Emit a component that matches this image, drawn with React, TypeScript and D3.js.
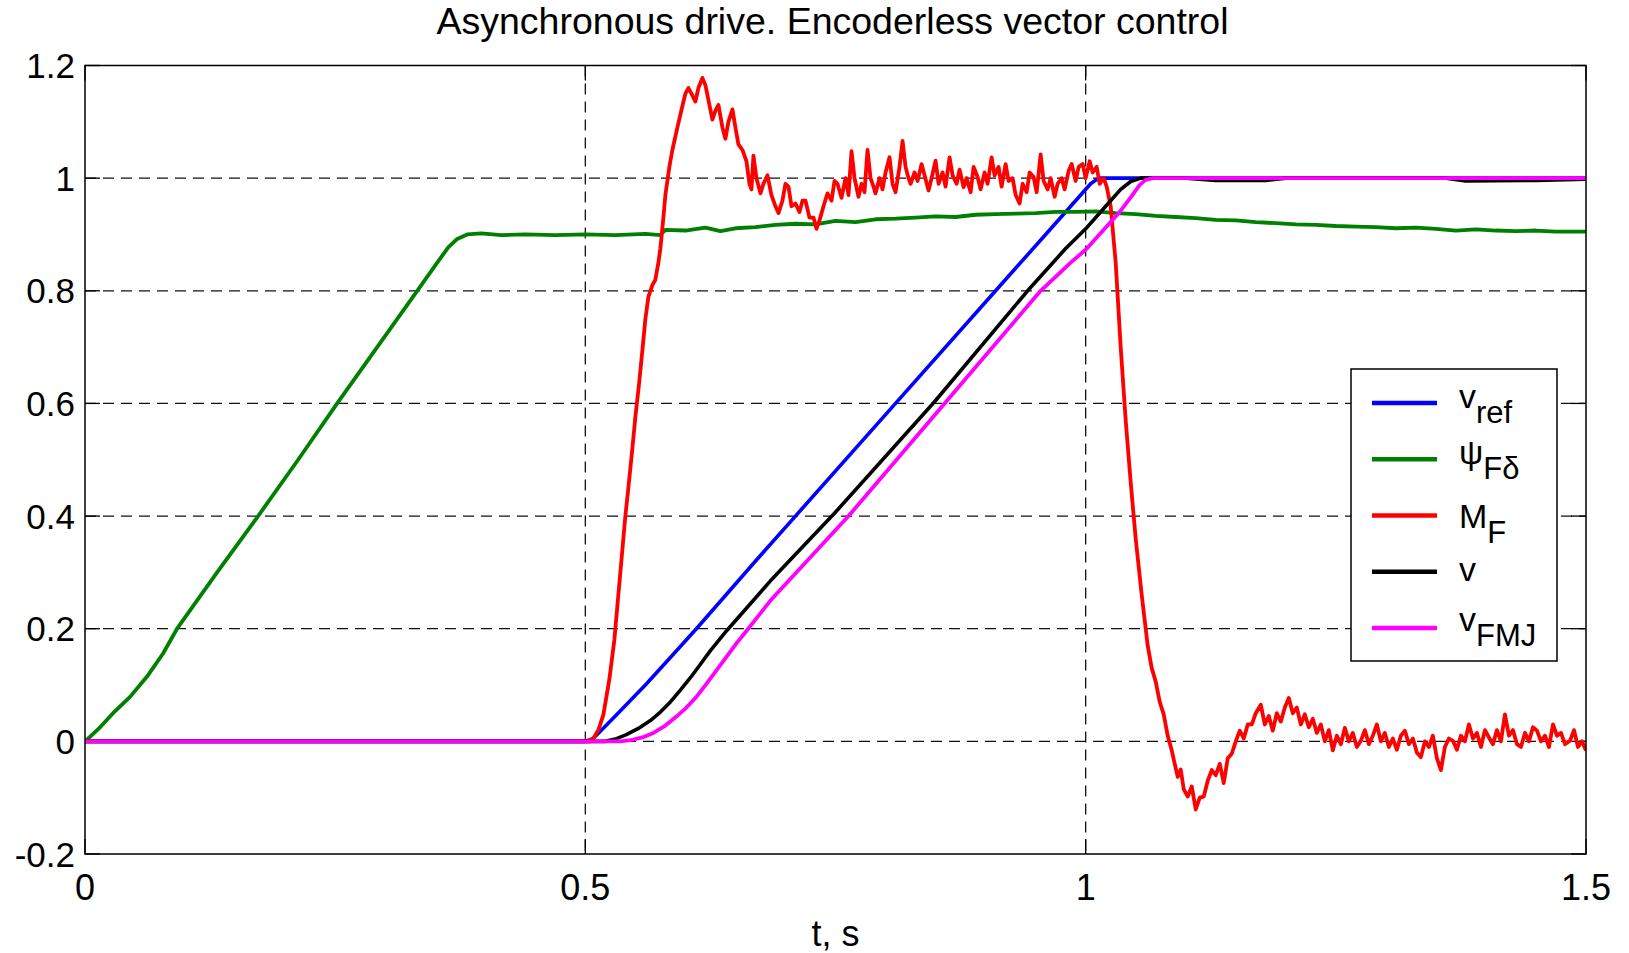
import React, { useEffect, useRef } from 'react';
import * as d3 from 'd3';

// time, s / value pairs
const vRef = [
  [0, 0], [0.505, 0], [0.515, 0.018], [0.53, 0.045], [0.56, 0.1], [0.585, 0.149],
  [0.611, 0.2], [0.671, 0.322], [0.71, 0.4], [0.81, 0.6], [0.91, 0.8], [0.96, 0.9],
  [0.995, 0.97], [1.005, 0.99], [1.013, 1.0], [1.5, 1.0],
];

const psiF = [
  [0, 0], [0.002, 0.003], [0.015, 0.025], [0.028, 0.05], [0.045, 0.079], [0.062, 0.115],
  [0.078, 0.156], [0.092, 0.2], [0.132, 0.3], [0.173, 0.4], [0.213, 0.5], [0.252, 0.6],
  [0.292, 0.7], [0.332, 0.8], [0.352, 0.85], [0.363, 0.877], [0.372, 0.892], [0.382, 0.9],
  [0.396, 0.902], [0.416, 0.899], [0.44, 0.9], [0.47, 0.899], [0.5, 0.9], [0.53, 0.899],
  [0.56, 0.901], [0.575, 0.899], [0.58, 0.908], [0.6, 0.907], [0.62, 0.912], [0.635, 0.906],
  [0.65, 0.911], [0.67, 0.913], [0.69, 0.917], [0.71, 0.919], [0.73, 0.918], [0.75, 0.924],
  [0.77, 0.922], [0.79, 0.927], [0.81, 0.928], [0.83, 0.93], [0.85, 0.932], [0.87, 0.931],
  [0.89, 0.935], [0.91, 0.936], [0.93, 0.937], [0.95, 0.938], [0.97, 0.94], [0.99, 0.94],
  [1.01, 0.941], [1.03, 0.938], [1.05, 0.936], [1.07, 0.933], [1.09, 0.931], [1.11, 0.929],
  [1.13, 0.926], [1.15, 0.925], [1.17, 0.922], [1.19, 0.92], [1.21, 0.918], [1.23, 0.917],
  [1.25, 0.915], [1.27, 0.914], [1.29, 0.913], [1.31, 0.911], [1.33, 0.912], [1.35, 0.91],
  [1.37, 0.907], [1.39, 0.909], [1.41, 0.907], [1.43, 0.906], [1.45, 0.907], [1.47, 0.905],
  [1.5, 0.905],
];

const torque = [
  [0, 0], [0.5, 0], [0.508, 0.005], [0.513, 0.02], [0.518, 0.047], [0.524, 0.11],
  [0.529, 0.18], [0.533, 0.26], [0.537, 0.34], [0.540, 0.40], [0.543, 0.45], [0.547, 0.52],
  [0.550, 0.576], [0.554, 0.64], [0.557, 0.694], [0.560, 0.75], [0.563, 0.789], [0.567, 0.81],
  [0.570, 0.82], [0.573, 0.85], [0.575, 0.875], [0.578, 0.93], [0.580, 0.97], [0.584, 1.02],
  [0.587, 1.05], [0.592, 1.09], [0.597, 1.128], [0.600, 1.15], [0.603, 1.16], [0.606, 1.15],
  [0.610, 1.136], [0.613, 1.16], [0.617, 1.178], [0.620, 1.165], [0.624, 1.13], [0.627, 1.104],
  [0.630, 1.12], [0.633, 1.13], [0.637, 1.09], [0.640, 1.07], [0.643, 1.10], [0.647, 1.122],
  [0.650, 1.09], [0.653, 1.06], [0.657, 1.05], [0.661, 1.03], [0.664, 0.99], [0.666, 0.98],
  [0.668, 1.04], [0.671, 1.00], [0.675, 0.973], [0.678, 0.99], [0.682, 1.005], [0.686, 0.97],
  [0.690, 0.95], [0.693, 0.938], [0.697, 0.96], [0.700, 0.99], [0.703, 0.985], [0.706, 0.95],
  [0.710, 0.955], [0.714, 0.94], [0.717, 0.96], [0.720, 0.96], [0.724, 0.93], [0.728, 0.93],
  [0.731, 0.91], [0.734, 0.925], [0.738, 0.95], [0.742, 0.973], [0.746, 0.96], [0.749, 0.995],
  [0.752, 0.99], [0.756, 0.965], [0.760, 1.0], [0.763, 0.97], [0.766, 1.048], [0.769, 1.0],
  [0.773, 0.967], [0.776, 0.99], [0.779, 0.975], [0.782, 1.05], [0.785, 1.0], [0.788, 0.985],
  [0.790, 0.973], [0.794, 1.0], [0.797, 0.98], [0.800, 1.01], [0.804, 1.037], [0.807, 0.99],
  [0.810, 0.975], [0.814, 1.02], [0.817, 1.066], [0.820, 1.02], [0.823, 1.0], [0.825, 0.99],
  [0.829, 1.01], [0.832, 0.995], [0.836, 1.025], [0.839, 1.005], [0.843, 0.978], [0.846, 1.0],
  [0.850, 1.031], [0.853, 0.99], [0.857, 1.01], [0.860, 0.985], [0.864, 1.037], [0.867, 1.005],
  [0.871, 0.99], [0.874, 1.015], [0.878, 0.984], [0.881, 1.0], [0.885, 0.975], [0.888, 1.02],
  [0.892, 1.002], [0.895, 0.98], [0.899, 1.01], [0.902, 0.99], [0.906, 1.037], [0.909, 1.005],
  [0.913, 1.02], [0.916, 0.985], [0.920, 1.025], [0.923, 0.995], [0.927, 1.0], [0.930, 0.97],
  [0.934, 0.955], [0.937, 0.99], [0.941, 0.975], [0.944, 1.01], [0.948, 1.002], [0.951, 0.975],
  [0.955, 1.042], [0.958, 0.995], [0.962, 0.98], [0.965, 1.0], [0.969, 0.967], [0.972, 0.99],
  [0.976, 1.0], [0.979, 0.98], [0.983, 1.013], [0.986, 1.025], [0.990, 0.995], [0.993, 1.02],
  [0.997, 1.025], [1.000, 1.0], [1.004, 1.03], [1.007, 1.01], [1.011, 1.02], [1.014, 0.99],
  [1.018, 1.0], [1.021, 0.985], [1.025, 0.95], [1.030, 0.85], [1.035, 0.70], [1.040, 0.57],
  [1.045, 0.46], [1.050, 0.36], [1.056, 0.26], [1.062, 0.17], [1.066, 0.13], [1.070, 0.106],
  [1.074, 0.07], [1.078, 0.048], [1.082, 0.01], [1.086, -0.016], [1.089, -0.04], [1.092, -0.063],
  [1.095, -0.05], [1.098, -0.085], [1.102, -0.098], [1.106, -0.08], [1.110, -0.121], [1.114, -0.1],
  [1.118, -0.098], [1.122, -0.07], [1.126, -0.051], [1.130, -0.06], [1.134, -0.04], [1.138, -0.074],
  [1.142, -0.03], [1.146, -0.022], [1.150, 0.0], [1.154, 0.019], [1.158, 0.005], [1.162, 0.03],
  [1.166, 0.03], [1.170, 0.05], [1.175, 0.065], [1.179, 0.03], [1.183, 0.045], [1.187, 0.019],
  [1.191, 0.05], [1.195, 0.035], [1.199, 0.06], [1.203, 0.077], [1.207, 0.05], [1.211, 0.06],
  [1.215, 0.03], [1.219, 0.048], [1.223, 0.025], [1.227, 0.04], [1.231, 0.015], [1.235, 0.03],
  [1.239, 0.0], [1.243, 0.02], [1.247, -0.016], [1.251, 0.01], [1.255, -0.005], [1.259, 0.024],
  [1.263, 0.0], [1.267, 0.015], [1.271, -0.01], [1.275, 0.001], [1.279, 0.02], [1.283, -0.005],
  [1.287, 0.01], [1.291, 0.03], [1.295, 0.0], [1.299, 0.015], [1.303, -0.01], [1.307, 0.005],
  [1.311, -0.015], [1.315, 0.01], [1.319, 0.019], [1.323, -0.005], [1.327, 0.005], [1.331, -0.02],
  [1.335, -0.028], [1.339, 0.0], [1.343, -0.01], [1.347, 0.01], [1.351, -0.03], [1.355, -0.051],
  [1.359, -0.01], [1.363, 0.005], [1.367, 0.001], [1.371, -0.015], [1.375, 0.01], [1.379, 0.0],
  [1.383, 0.03], [1.387, 0.005], [1.391, 0.015], [1.395, -0.01], [1.399, 0.02], [1.403, 0.007],
  [1.407, -0.005], [1.411, 0.02], [1.415, 0.0], [1.419, 0.048], [1.423, 0.01], [1.427, 0.02],
  [1.431, -0.005], [1.435, -0.01], [1.439, 0.015], [1.443, 0.0], [1.447, 0.025], [1.451, 0.019],
  [1.455, 0.0], [1.459, 0.01], [1.463, -0.01], [1.467, 0.03], [1.471, 0.01], [1.475, 0.015],
  [1.479, -0.005], [1.484, 0.001], [1.488, 0.02], [1.492, -0.01], [1.496, 0.0], [1.500, -0.016],
];

const speed = [
  [0, 0], [0.52, 0], [0.53, 0.004], [0.541, 0.012], [0.553, 0.023], [0.565, 0.037],
  [0.575, 0.052], [0.585, 0.07], [0.595, 0.091], [0.605, 0.113], [0.615, 0.137], [0.625, 0.161],
  [0.641, 0.196], [0.685, 0.285], [0.749, 0.405], [0.849, 0.603], [0.942, 0.8], [0.98, 0.875],
  [1.0, 0.91], [1.02, 0.95], [1.035, 0.98], [1.045, 0.994], [1.055, 1.0], [1.1, 1.0],
  [1.13, 0.996], [1.18, 0.996], [1.2, 1.0], [1.36, 1.0], [1.38, 0.995], [1.45, 0.996], [1.5, 0.998],
];

const speedEst = [
  [0, 0], [0.535, 0], [0.545, 0.002], [0.557, 0.007], [0.568, 0.015], [0.58, 0.028],
  [0.591, 0.044], [0.601, 0.06], [0.611, 0.079], [0.621, 0.102], [0.631, 0.126], [0.641, 0.15],
  [0.651, 0.174], [0.661, 0.196], [0.685, 0.25], [0.763, 0.4], [0.859, 0.6], [0.955, 0.8],
  [0.985, 0.85], [1.0, 0.873], [1.034, 0.94], [1.046, 0.968], [1.054, 0.988], [1.06, 0.997],
  [1.067, 1.0], [1.5, 1.0],
];

const xTicks = [0, 0.5, 1, 1.5];
const yTicks = [-0.2, 0, 0.2, 0.4, 0.6, 0.8, 1, 1.2];

const series = [
  { name: 'v', sub: 'ref', data: vRef, color: '#0000ff', width: 3.6, shift: 5 },
  { name: 'ψ', sub: 'Fδ', data: psiF, color: '#008000', width: 3.8, shift: 5 },
  { name: 'M', sub: 'F', data: torque, color: '#ff0000', width: 3.8, shift: 12 },
  { name: 'v', sub: '', data: speed, color: '#000000', width: 3.6, shift: 9 },
  { name: 'v', sub: 'FMJ', data: speedEst, color: '#ff00ff', width: 3.8, shift: 3 },
];

const W = 1629;
const H = 953;
const FONT = '"Liberation Sans", Arial, Helvetica, sans-serif';

export default function App() {
  const svgRef = useRef(null);

  useEffect(() => {
    const svg = d3.select(svgRef.current);
    svg.selectAll('*').remove();

    const left = 85, right = 1586, top = 65.5, bottom = 854;

    const x = d3.scaleLinear().domain([0, 1.5]).range([left, right]);
    const y = d3.scaleLinear().domain([-0.2, 1.2]).range([bottom, top]);

    svg.append('rect').attr('width', W).attr('height', H).attr('fill', 'white');

    svg.append('defs').append('clipPath').attr('id', 'plotclip')
      .append('rect')
      .attr('x', left).attr('y', top)
      .attr('width', right - left).attr('height', bottom - top);

    // grid
    svg.selectAll('.vgrid')
      .data(xTicks.slice(1, -1))
      .enter()
      .append('line')
      .attr('x1', d => x(d)).attr('x2', d => x(d))
      .attr('y1', top).attr('y2', bottom)
      .attr('stroke', '#111')
      .attr('stroke-width', 1.3)
      .attr('stroke-dasharray', '11,7');

    svg.selectAll('.hgrid')
      .data(yTicks.slice(1, -1))
      .enter()
      .append('line')
      .attr('x1', left).attr('x2', right)
      .attr('y1', d => y(d)).attr('y2', d => y(d))
      .attr('stroke', '#111')
      .attr('stroke-width', 1.3)
      .attr('stroke-dasharray', '11,7');

    // ticks inside, all four sides
    const tl = 15;
    const ticks = svg.append('g').attr('stroke', 'black').attr('stroke-width', 1.3);
    xTicks.forEach(t => {
      ticks.append('line').attr('x1', x(t)).attr('x2', x(t)).attr('y1', bottom).attr('y2', bottom - tl);
      ticks.append('line').attr('x1', x(t)).attr('x2', x(t)).attr('y1', top).attr('y2', top + tl);
    });
    yTicks.forEach(v => {
      ticks.append('line').attr('x1', left).attr('x2', left + tl).attr('y1', y(v)).attr('y2', y(v));
      ticks.append('line').attr('x1', right).attr('x2', right - tl).attr('y1', y(v)).attr('y2', y(v));
    });

    // data
    const line = d3.line()
      .x(d => x(d[0]))
      .y(d => y(d[1]));
    const plot = svg.append('g').attr('clip-path', 'url(#plotclip)');
    series.forEach(s => {
      plot.append('path')
        .attr('d', line(s.data))
        .attr('fill', 'none')
        .attr('stroke', s.color)
        .attr('stroke-width', s.width)
        .attr('stroke-linejoin', 'round');
    });

    // axes box
    svg.append('rect')
      .attr('x', left).attr('y', top)
      .attr('width', right - left).attr('height', bottom - top)
      .attr('fill', 'none')
      .attr('stroke', 'black')
      .attr('stroke-width', 1.5);

    // tick labels
    svg.selectAll('.ylabel')
      .data(yTicks)
      .enter()
      .append('text')
      .attr('x', left - 10)
      .attr('y', d => y(d))
      .attr('dy', '0.36em')
      .attr('text-anchor', 'end')
      .attr('font-family', FONT)
      .attr('font-size', 35)
      .text(d => String(d));

    svg.selectAll('.xlabel')
      .data(xTicks)
      .enter()
      .append('text')
      .attr('x', d => x(d))
      .attr('y', 900)
      .attr('text-anchor', 'middle')
      .attr('font-family', FONT)
      .attr('font-size', 36)
      .text(d => String(d));

    svg.append('text')
      .attr('x', (left + right) / 2)
      .attr('y', 946)
      .attr('text-anchor', 'middle')
      .attr('font-family', FONT)
      .attr('font-size', 36)
      .text('t, s');

    svg.append('text')
      .attr('x', (left + right) / 2 - 3)
      .attr('y', 34)
      .attr('text-anchor', 'middle')
      .attr('font-family', FONT)
      .attr('font-size', 37.5)
      .text('Asynchronous drive. Encoderless vector control');

    // legend
    const lg = svg.append('g');
    lg.append('rect')
      .attr('x', 1351).attr('y', 369)
      .attr('width', 206).attr('height', 292)
      .attr('fill', 'white')
      .attr('stroke', 'black')
      .attr('stroke-width', 1.5);

    const rowY = d3.scaleLinear().domain([0, 4]).range([403, 628]);
    series.forEach((s, i) => {
      const yy = rowY(i);
      lg.append('line')
        .attr('x1', 1372).attr('x2', 1437)
        .attr('y1', yy).attr('y2', yy)
        .attr('stroke', s.color)
        .attr('stroke-width', 4.5);
      const t = lg.append('text')
        .attr('x', 1459)
        .attr('y', yy + s.shift)
        .attr('font-family', FONT)
        .attr('font-size', 34);
      t.append('tspan').text(s.name);
      if (s.sub) {
        t.append('tspan').attr('dy', 15).attr('font-size', 31).text(s.sub);
      }
    });
  }, []);

  return (
    <svg
      ref={svgRef}
      width={W}
      height={H}
      viewBox={`0 0 ${W} ${H}`}
      style={{ position: 'absolute', left: 0, top: 0 }}
    />
  );
}
